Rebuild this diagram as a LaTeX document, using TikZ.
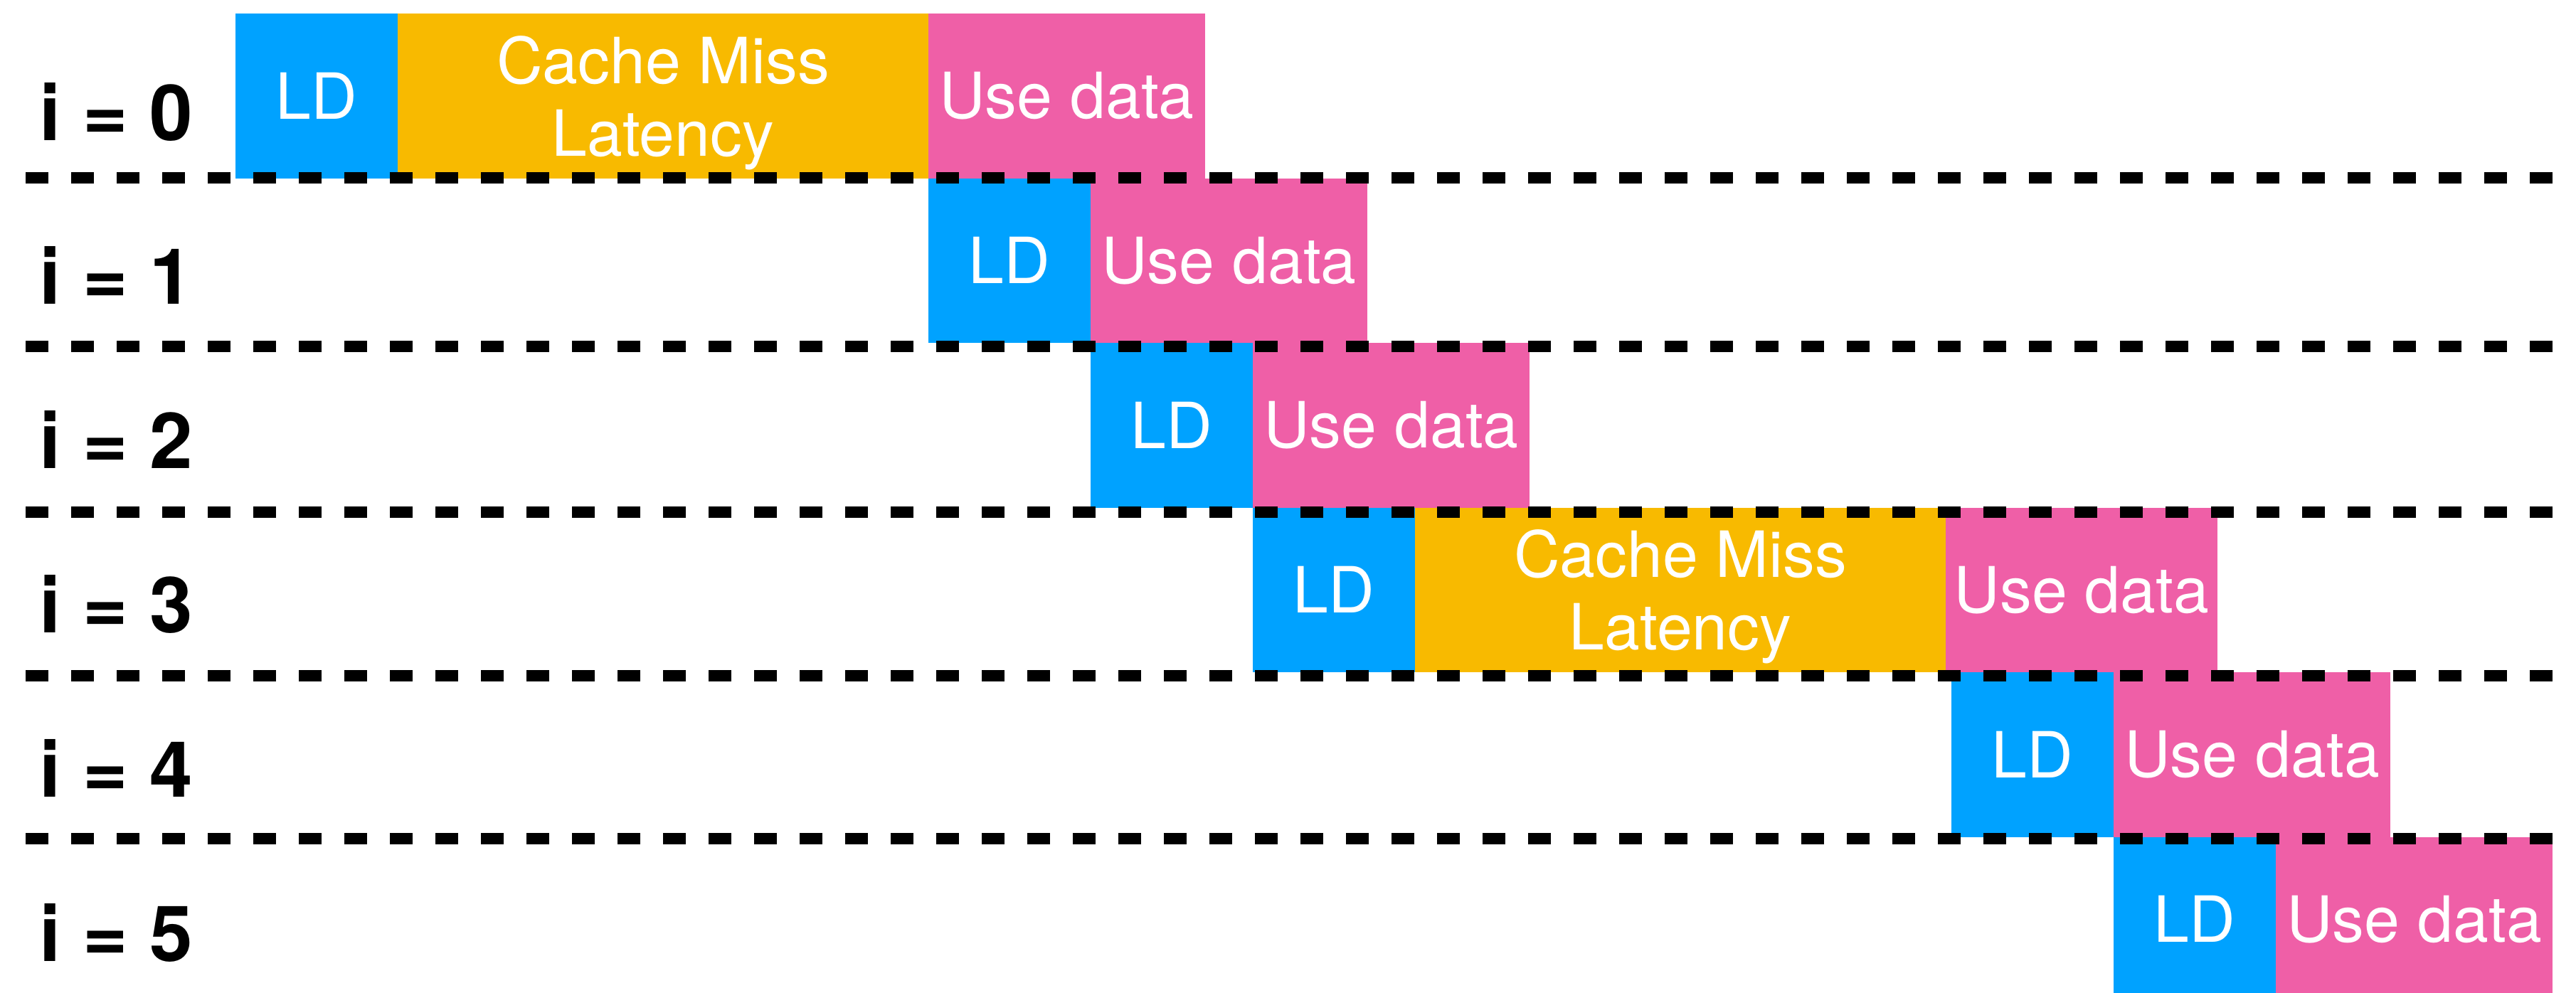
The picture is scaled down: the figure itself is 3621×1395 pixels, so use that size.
\documentclass[tikz,border=0pt]{standalone}
\usepackage{fontspec}
\setmainfont{TeX Gyre Heros}
\usetikzlibrary{
  positioning  % 节点相对定位
}

\definecolor{ldblue}{HTML}{00A2FF}
\definecolor{missorange}{HTML}{F8BA00}
\definecolor{usepink}{HTML}{EF5FA7}

\begin{document}
\begin{tikzpicture}[x=0.25pt, y=-0.25pt,
  blk/.style={inner sep=0pt, outer sep=0pt, minimum height=57.875pt,
    text=white, align=center, font=\fontsize{22.4}{25.5}\selectfont},
  ldbox/.style={blk, fill=ldblue, minimum width=57pt},
  missbox/.style={blk, fill=missorange, minimum width=186.5pt, text depth=0pt},
  usebox/.style={blk, fill=usepink, minimum width=97.25pt},
  rowlabel/.style={inner sep=0pt, anchor=base west,
    font=\fontsize{27.2}{30}\selectfont\bfseries},
  sep/.style={line width=4pt, dash pattern=on 8pt off 8pt}]
  \clip (0,0) rectangle (3621,1395);

  % === i = 0：缓存未命中 ===
  \node[ldbox, anchor=north west] (ld0) at (331,19) {LD};
  \node[missbox, right=0pt of ld0] (miss0) {Cache Miss\\Latency};
  \node[usebox, right=0pt of miss0] (use0) {Use data};

  % === i = 1, 2：命中 ===
  \node[ldbox, anchor=north west] (ld1) at (miss0.south east) {LD};
  \node[usebox, right=0pt of ld1] (use1) {Use data};
  \node[ldbox, anchor=north west] (ld2) at (ld1.south east) {LD};
  \node[usebox, right=0pt of ld2] (use2) {Use data};

  % === i = 3：再次未命中 ===
  \node[ldbox, anchor=north west] (ld3) at (ld2.south east) {LD};
  \node[missbox, right=0pt of ld3] (miss3) {Cache Miss\\Latency};
  \node[usebox, right=0pt of miss3, minimum width=95.5pt] (use3) {Use data};

  % === i = 4, 5 ===
  \node[ldbox, anchor=north west] (ld4) at ([xshift=2pt]miss3.south east) {LD};
  \node[usebox, right=0pt of ld4] (use4) {Use data};
  \node[ldbox, anchor=north west] (ld5) at (ld4.south east) {LD};
  \node[usebox, right=0pt of ld5] (use5) {Use data};

  % 行号
  \foreach \k in {0,...,5}
    \node[rowlabel] (lbl\k) at (55, 197+230.8*\k) {i = \k};

  % 行间虚线（盖在色块上）
  \foreach \y in {250,487,720,950,1179}
    \draw[sep] (36,\y) -- (3589,\y);
\end{tikzpicture}
\end{document}
